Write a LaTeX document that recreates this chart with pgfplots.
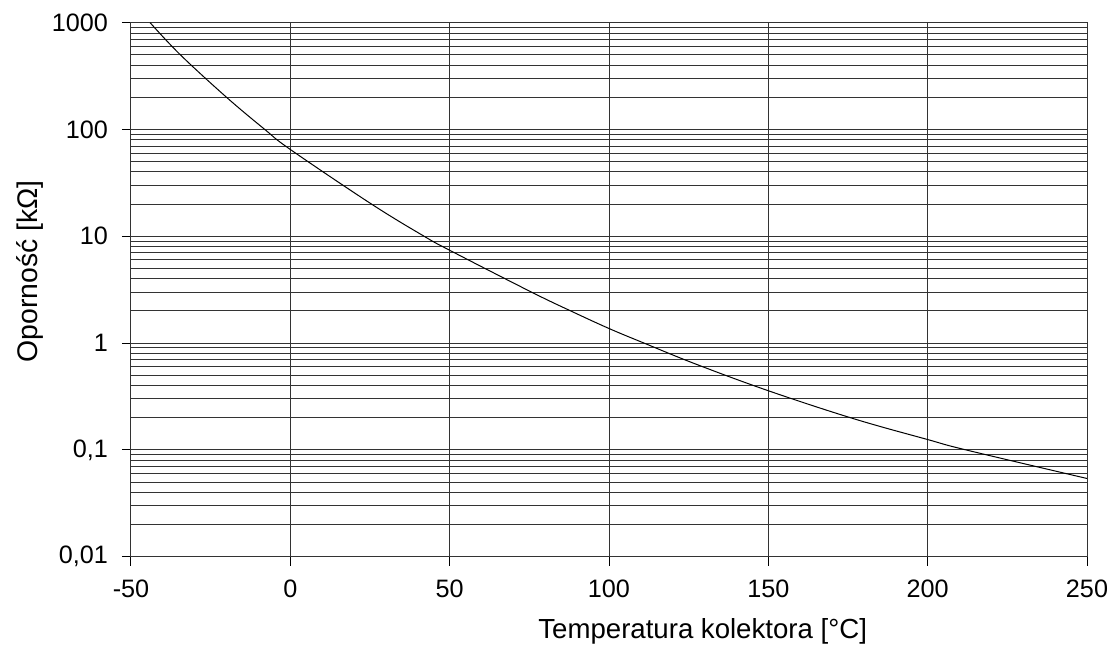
\documentclass[border=0pt]{standalone}
\usepackage{fontspec}
\setmainfont{Liberation Sans}
\usepackage{pgfplots}
\pgfplotsset{compat=1.18}
\usetikzlibrary{calc}
\begin{document}
\begin{tikzpicture}
\begin{axis}[
  scale only axis,
  width=478pt, height=267pt,
  xmin=-50, xmax=250,
  ymode=log, ymin=0.01, ymax=1000,
  xtick={-50,0,50,100,150,200,250},
  xticklabels={-50,0,50,100,150,200,250},
  ytick={0.01,0.1,1,10,100,1000},
  yticklabels={{0,01},{0,1},1,10,100,1000},
  minor ytick={0.02,0.03,0.04,0.05,0.06,0.07,0.08,0.09,
    0.2,0.3,0.4,0.5,0.6,0.7,0.8,0.9,
    2,3,4,5,6,7,8,9,
    20,30,40,50,60,70,80,90,
    200,300,400,500,600,700,800,900},
  minor xtick={},
  xminorgrids=false,
  grid=both,
  major grid style={black!80, line width=0.5pt},
  minor grid style={black!80, line width=0.5pt},
  axis line style={black!80, line width=0.5pt},
  tick style={black, line width=0.5pt},
  tick align=outside,
  major tick length=4.5pt,
  minor tick length=0pt,
  xtick pos=bottom, ytick pos=left,
  ticklabel style={font=\fontsize{12.6}{15}\selectfont, inner sep=0pt},
  yticklabel style={anchor=east, xshift=-6.8pt},
  xticklabel style={anchor=north, yshift=-7pt},
  xlabel={Temperatura kolektora [°C]},
  ylabel={Oporność [kΩ]},
  xlabel style={font=\fontsize{13.8}{16}\selectfont, at={(axis description cs:0.598,-0.154)}, anchor=base},
  ylabel style={font=\fontsize{14.2}{16}\selectfont, at={(axis description cs:-0.098,0.534)}, anchor=base, rotate=0},
]
\addplot[black, line width=0.5pt, smooth, tension=0.6] coordinates {
  (-44,1000) (-34.5,500) (-20,200) (-8,100) (0,65) (25.5,20) (42,10)
  (50,7.4) (75.7,3) (88,2) (100,1.37) (111,1) (127.3,0.635) (150,0.358)
  (177,0.195) (200,0.125) (212,0.1) (250,0.054)
};
\coordinate (sw) at (rel axis cs:0,0);
\coordinate (ne) at (rel axis cs:1,1);
\end{axis}
\pgfresetboundingbox
\path ($(sw)+(-65.5pt,-44.65pt)$) rectangle ($(ne)+(13.5pt,11.35pt)$);
\end{tikzpicture}
\end{document}
